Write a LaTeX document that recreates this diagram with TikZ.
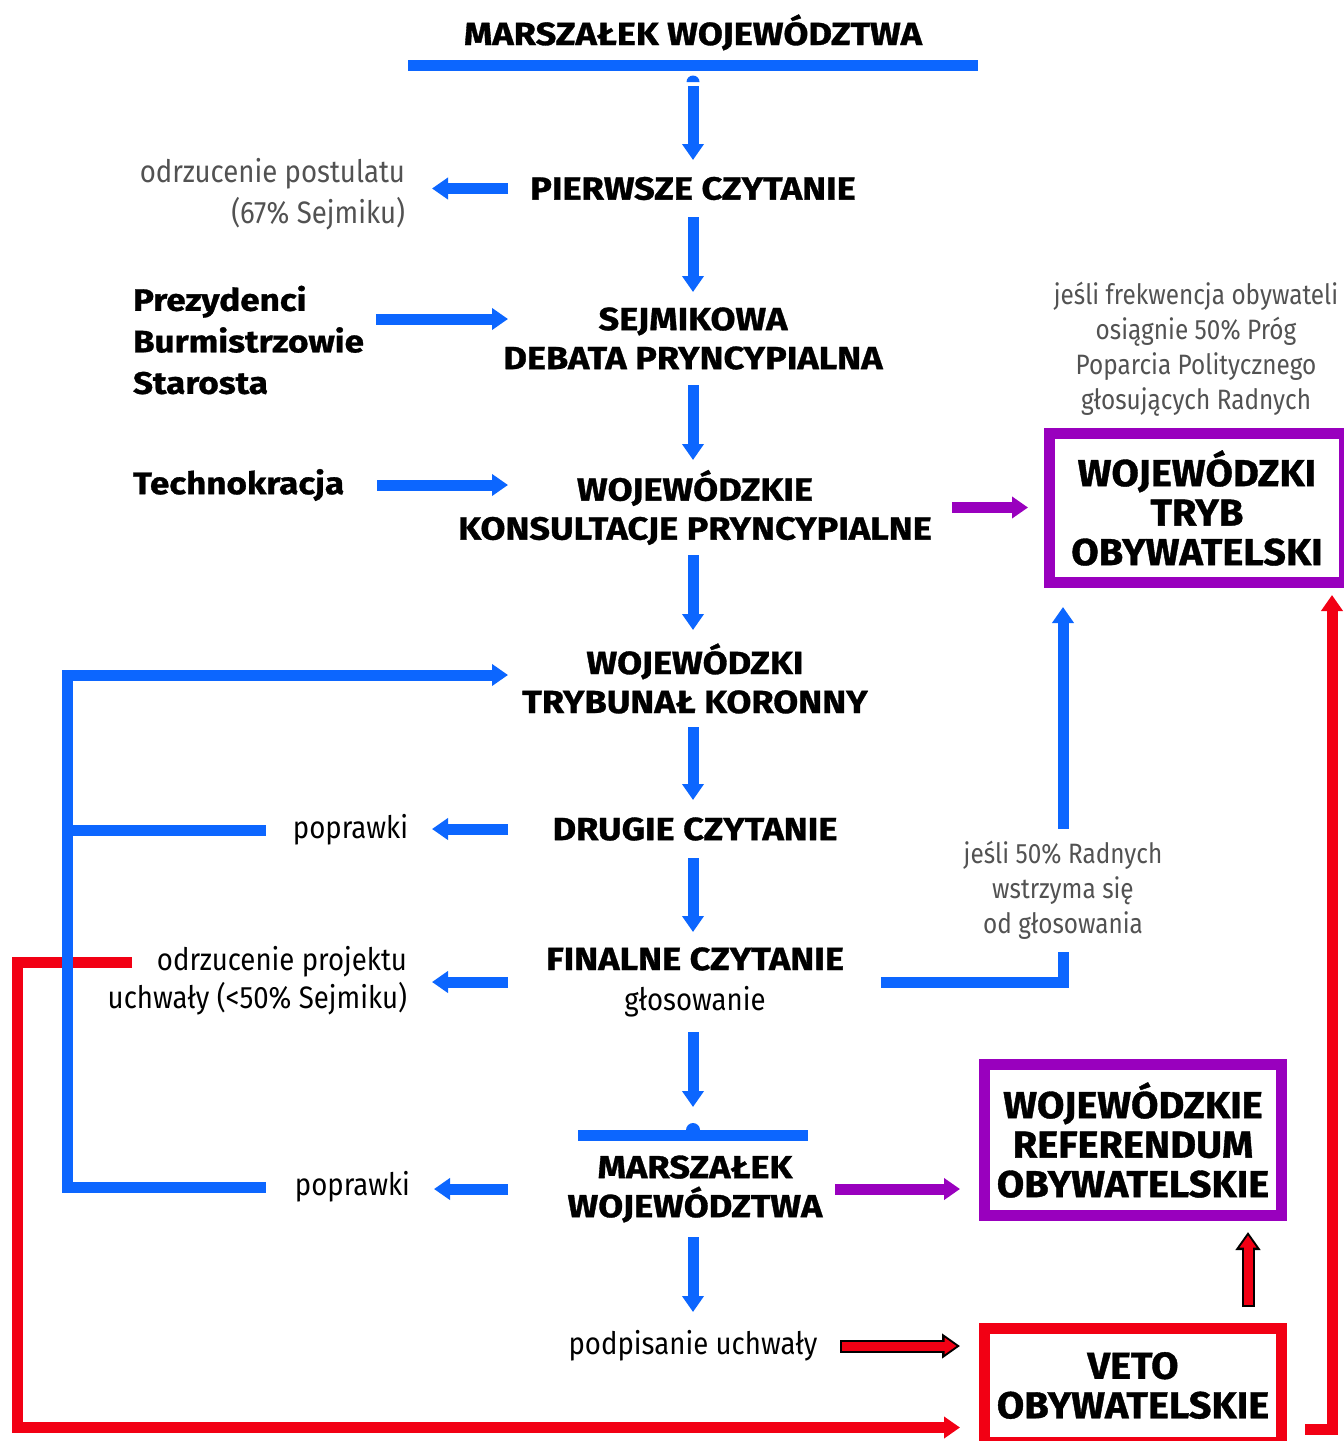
\documentclass[tikz,border=0pt]{standalone}
\usepackage{fontspec}
\usepackage{xcolor}
\usepackage{tikz}
\usetikzlibrary{arrows.meta}
\setmainfont{Fira Sans}
\newfontfamily\headfont{Fira Sans}[FakeStretch=1.13, BoldFeatures={FakeBold=1}]
\newfontfamily\boxfont{Fira Sans}[FakeStretch=1.06, BoldFeatures={FakeBold=1}]
\newfontfamily\notefont{Fira Sans}[FakeStretch=0.89]
\newfontfamily\hintfont{Fira Sans}[FakeStretch=0.87]
\definecolor{flowblue}{RGB}{12,102,255}
\definecolor{flowpurple}{RGB}{153,0,190}
\definecolor{flowred}{RGB}{242,0,20}
\definecolor{notegray}{RGB}{82,82,82}
\tikzset{
	stage/.style={font=\headfont\bfseries\fontsize{32}{39}\selectfont, align=center, inner sep=0pt, outer sep=0pt},
	bigstage/.style={font=\boxfont\bfseries\fontsize{37.5}{39.5}\selectfont, align=center, inner sep=0pt, outer sep=0pt},
	side/.style={font=\headfont\bfseries\fontsize{31}{41.5}\selectfont, align=left, inner sep=0pt, outer sep=0pt, anchor=west},
	note/.style={font=\notefont\fontsize{31}{38}\selectfont, align=right, inner sep=0pt, outer sep=0pt, anchor=east},
	greynote/.style={note, text=notegray, font=\notefont\fontsize{31}{41}\selectfont},
	hint/.style={note, text=notegray, anchor=center, align=center, font=\hintfont\fontsize{28}{35}\selectfont},
	bar/.style={fill=flowblue, inner sep=0pt, outer sep=0pt, minimum height=11pt},
	frame/.style={bigstage, draw=#1, line width=11pt},
	flow/.style={draw=flowblue, line width=11pt, -{Triangle[width=21pt,length=16pt]}},
	flowline/.style={draw=flowblue, line width=11pt},
	purpflow/.style={draw=flowpurple, line width=11pt, -{Triangle[width=21pt,length=16pt]}},
	redline/.style={draw=flowred, line width=11pt},
	redflow/.style={redline, -{Triangle[width=21pt,length=16pt]}},
	outback/.style={draw=black, line width=13pt, -{Triangle[width=24pt,length=18pt]}},
	outfront/.style={draw=flowred, line width=9pt, -{Triangle[width=16pt,length=12pt]}}
}

\begin{document}
\begin{tikzpicture}[x=1pt, y=-1pt]
	\useasboundingbox (0,0) rectangle (1344,1441);

	\node[bar, minimum width=570pt] (topbar) at (693,65.5) {};
	\node[bar, minimum width=230pt] (lowbar) at (693,1135.5) {};
	\fill[flowblue] ([xshift=-6.5pt,yshift=-11pt]topbar.south) arc[start angle=180, end angle=0, radius=6.5pt] -- cycle;
	\fill[flowblue] ([xshift=-7pt]lowbar.north) arc[start angle=180, end angle=0, radius=7pt] -- cycle;

	\node[stage, anchor=base] (title) at (693,45) {MARSZAŁEK WOJEWÓDZTWA};
	\node[stage, minimum height=57pt] (pierwsze) at (693,188.5) {PIERWSZE CZYTANIE};
	\node[stage, minimum height=93pt] (sejmik) at (693,338.5) {SEJMIKOWA\\DEBATA PRYNCYPIALNA};
	\node[stage, minimum height=95pt] (konsult) at (695,507.5) {WOJEWÓDZKIE\\KONSULTACJE PRYNCYPIALNE};
	\node[stage, minimum height=97pt] (trybunal) at (695,678.5) {WOJEWÓDZKI\\TRYBUNAŁ KORONNY};
	\node[stage, minimum height=58pt] (drugie) at (695,829) {DRUGIE CZYTANIE};
	\node[stage, minimum height=100pt] (finalne) at (695,982) {FINALNE CZYTANIE\\[1pt]{\notefont\mdseries\fontsize{31}{30}\selectfont głosowanie}};
	\node[stage, minimum height=96pt] (marsz) at (695,1189) {MARSZAŁEK\\WOJEWÓDZTWA};
	\node[note, anchor=center, minimum height=68pt] (podpis) at (693,1346) {podpisanie uchwały};

	\node[frame=flowpurple, minimum width=295pt, minimum height=149pt] (tryb) at (1197,508) {WOJEWÓDZKI\\TRYB\\OBYWATELSKI};
	\node[frame=flowpurple, minimum width=297pt, minimum height=151pt] (refer) at (1133,1140) {WOJEWÓDZKIE\\REFERENDUM\\OBYWATELSKIE};
	\node[frame=flowred, minimum width=297pt, minimum height=114pt] (veto) at (1133,1385.5) {VETO\\OBYWATELSKIE};

	\node[greynote] (postulat) at (405,194.5) {odrzucenie postulatu\\(67\% Sejmiku)};
	\node[side] (prez) at (133,340) {Prezydenci\\Burmistrzowie\\Starosta};
	\node[side] (techno) at (133,485) {Technokracja};
	\node[note] (pop1) at (408,830) {poprawki};
	\node[note] (reject) at (407,981) {odrzucenie projektu\\uchwały (<50\% Sejmiku)};
	\node[note] (pop2) at (410,1187) {poprawki};
	\node[hint] (turnout) at (1196,349.5) {jeśli frekwencja obywateli\\osiągnie 50\% Próg\\Poparcia Politycznego\\głosujących Radnych};
	\node[hint] (abstain) at (1063,890) {jeśli 50\% Radnych\\wstrzyma się\\od głosowania};

	\coordinate (lane) at (508,0);
	\coordinate (loop) at (67,675);
	\coordinate (rejstart) at (132,962);
	\coordinate (redlane) at (1332,0);

	% red runs first, the blue loop crosses over it
	\draw[redflow, shorten >=24.5pt] (rejstart) -- ++(-115,0) |- ([yshift=-42pt]veto.west);
	\draw[redflow, shorten <=23.5pt, shorten >=12.5pt] ([yshift=-44pt]veto.east) -| (redlane |- tryb.south);
	\draw[outback, shorten <=23pt, shorten >=24.5pt] (podpis.east) -- (podpis.east -| veto.west);
	\draw[outfront, shorten <=25pt, shorten >=28pt] (podpis.east) -- (podpis.east -| veto.west);
	\draw[outback, shorten <=21.5pt, shorten >=16.5pt] ([xshift=-33.5pt]veto.north east) -- ([xshift=-33.5pt]refer.south east);
	\draw[outfront, shorten <=23.5pt, shorten >=20pt] ([xshift=-33.5pt]veto.north east) -- ([xshift=-33.5pt]refer.south east);

	\draw[flow, shorten <=15pt] (topbar) -- (pierwsze);
	\draw[flow] (pierwsze) -- (sejmik);
	\draw[flow] (sejmik) -- (sejmik |- konsult.north);
	\draw[flow] (sejmik |- konsult.south) -- (sejmik |- trybunal.north);
	\draw[flow] (sejmik |- trybunal.south) -- (sejmik |- drugie.north);
	\draw[flow] (sejmik |- drugie.south) -- (sejmik |- finalne.north);
	\draw[flow, shorten >=23pt] (sejmik |- finalne.south) -- (lowbar);
	\draw[flow] (sejmik |- marsz.south) -- (podpis);

	\draw[flow, shorten >=27pt] (pierwsze -| lane) -- (pierwsze -| postulat.east);
	\draw[flow, shorten >=24pt] (drugie -| lane) -- (drugie -| pop1.east);
	\draw[flow, shorten >=25pt] (finalne -| lane) -- (finalne -| reject.east);
	\draw[flow, shorten >=24pt] (marsz -| lane) -- (marsz -| pop2.east);
	\draw[flow, shorten <=12pt] ([yshift=21pt]prez.east) -- ([yshift=21pt]prez.east -| lane);
	\draw[flow, shorten <=33pt] (techno.east) -- (techno.east -| lane);

	\draw[flowline, shorten <=27pt] (pop1.west) -- (pop1.west -| loop);
	\draw[flow, shorten <=29pt] (pop2.west) -| (loop) -- (loop -| lane);

	\draw[purpflow, shorten <=20pt, shorten >=21.5pt] (konsult.east) -- (konsult.east -| tryb.west);
	\draw[flowline, shorten <=37pt, shorten >=13pt] (finalne.east) -| (abstain.south);
	\draw[flow, shorten <=12pt, shorten >=24.5pt] (abstain.north) -- (abstain.north |- tryb.south);
	\draw[purpflow, shorten <=13pt, shorten >=24.5pt] (marsz.east) -- (marsz.east -| refer.west);
\end{tikzpicture}
\end{document}
